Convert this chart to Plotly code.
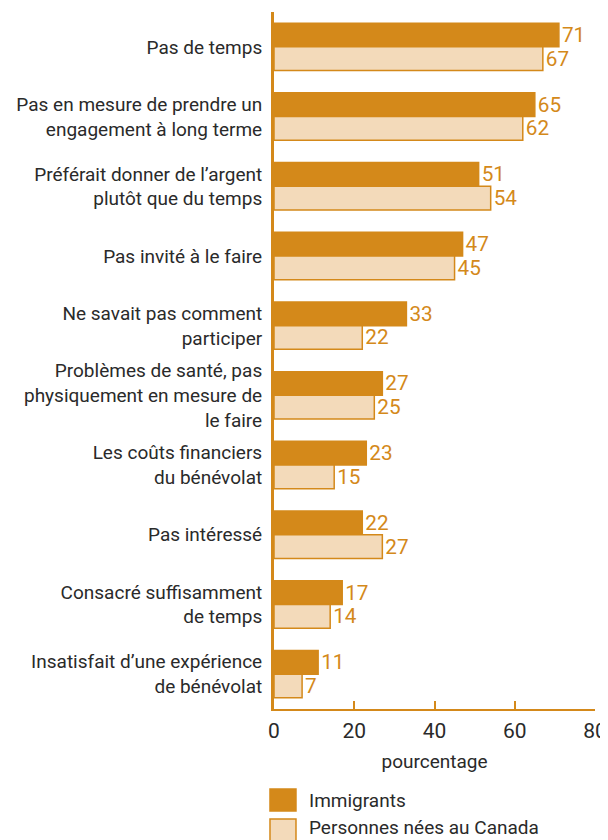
import plotly.graph_objects as go

categories = [
    "Pas de temps",
    "Pas en mesure de prendre un<br>engagement à long terme",
    "Préférait donner de l’argent<br>plutôt que du temps",
    "Pas invité à le faire",
    "Ne savait pas comment<br>participer",
    "Problèmes de santé, pas<br>physiquement en mesure de<br>le faire",
    "Les coûts financiers<br>du bénévolat",
    "Pas intéressé",
    "Consacré suffisamment<br>de temps",
    "Insatisfait d’une expérience<br>de bénévolat",
]
immigrants = [71, 65, 51, 47, 33, 27, 23, 22, 17, 11]
canada = [67, 62, 54, 45, 22, 25, 15, 27, 14, 7]
x_ticks = [0, 20, 40, 60, 80]
series_names = ["Immigrants", "Personnes nées au Canada"]

ORANGE = "#D4891A"
LIGHT = "#F3DABA"
TEXT = "#2a2a2a"
FONT = "Roboto, Arial, sans-serif"

fig = go.Figure()

for name, vals, fill in [(series_names[0], immigrants, ORANGE),
                         (series_names[1], canada, LIGHT)]:
    fig.add_trace(go.Bar(
        y=categories, x=vals, orientation="h", name=name,
        marker=dict(color=fill, line=dict(color=ORANGE, width=1.5)),
        text=vals, textposition="outside", cliponaxis=False,
        textfont=dict(color=ORANGE, size=21, family=FONT),
    ))

# legend drawn by hand so the swatches can be as large as in the original
legend_rows = [(-0.1148, -0.1463, -0.1306, ORANGE), (-0.1578, -0.1890, -0.1700, LIGHT)]
for name, (y0, y1, yt, fill) in zip(series_names, legend_rows):
    fig.add_shape(type="rect", xref="paper", yref="paper",
                  x0=-0.0125, x1=0.0685, y0=y0, y1=y1,
                  fillcolor=fill, line=dict(color=ORANGE, width=1.5))
    fig.add_annotation(text=name, xref="paper", yref="paper", x=0.1028, y=yt,
                       xanchor="left", yanchor="middle", showarrow=False,
                       font=dict(size=19, color=TEXT))

# page body has an 8px margin, so the figure is 8px smaller than the window
fig.update_layout(
    width=600, height=832,
    barmode="group", bargap=0.32, bargroupgap=0.0,
    plot_bgcolor="white", paper_bgcolor="white",
    font=dict(family=FONT, size=19, color=TEXT),
    margin=dict(l=266, r=13, t=4, b=131, autoexpand=False),
    showlegend=False,
    xaxis=dict(
        range=[0, 80], tickvals=x_ticks, ticks="inside", ticklen=8,
        tickcolor=ORANGE, tickwidth=2, showline=True, linecolor=ORANGE,
        linewidth=2, showgrid=False, zeroline=False, ticklabelstandoff=2,
        tickfont=dict(size=21, color=TEXT),
        title=dict(text="pourcentage", font=dict(size=19, color=TEXT), standoff=12),
    ),
    yaxis=dict(
        autorange="reversed", showline=True, linecolor=ORANGE, linewidth=3,
        showgrid=False, ticks="", ticklabelstandoff=5,
        tickfont=dict(size=19, color=TEXT),
    ),
)

fig.write_html("out.html")
